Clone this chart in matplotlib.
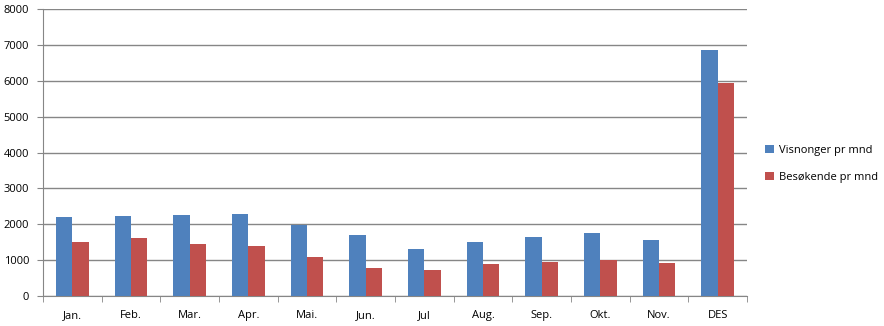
import numpy as np
import matplotlib
matplotlib.use("Agg")
import matplotlib.pyplot as plt

months = ["Jan.", "Feb.", "Mar.", "Apr.", "Mai.", "Jun.", "Jul", "Aug.",
          "Sep.", "Okt.", "Nov.", "DES"]
visninger = [2200, 2230, 2260, 2290, 1990, 1700, 1310, 1500, 1640, 1760, 1560, 6860]
besokende = [1500, 1620, 1450, 1390, 1090, 790, 720, 890, 950, 1000, 920, 5940]

plt.rcParams["font.family"] = ["Open Sans", "DejaVu Sans"]
plt.rcParams["font.size"] = 8

fig = plt.figure(figsize=(8.84, 3.26), dpi=100)
ax = fig.add_axes([0.0486, 0.092, 0.7964, 0.880])

x = np.arange(len(months))
w = 0.28
ax.bar(x - w / 2, visninger, w, color="#4F81BD", label="Visnonger pr mnd", zorder=3)
ax.bar(x + w / 2, besokende, w, color="#C0504D", label="Besøkende pr mnd", zorder=3)

ax.set_xlim(-0.5, len(months) - 0.5)
ax.set_ylim(0, 8000)
ax.set_yticks(range(0, 8001, 1000))
ax.yaxis.grid(True, color="#868686", linewidth=1, zorder=0)

# category labels in the middle, tick marks on the boundaries
ax.set_xticks(x)
ax.set_xticklabels(months)
ax.set_xticks(np.arange(-0.5, len(months), 1), minor=True)
ax.tick_params(axis="x", which="major", length=0, pad=10)
ax.tick_params(axis="x", which="minor", length=4, color="#868686")
ax.tick_params(axis="y", length=4, color="#868686", pad=6)

for side in ["top", "right"]:
    ax.spines[side].set_visible(False)
for side in ["left", "bottom"]:
    ax.spines[side].set_color("#868686")

ax.legend(loc="center left", bbox_to_anchor=(1.012, 0.46), frameon=False,
          handlelength=0.75, handleheight=0.75, handletextpad=0.5,
          labelspacing=1.4, fontsize=8)

fig.savefig("out.png", dpi=100)
